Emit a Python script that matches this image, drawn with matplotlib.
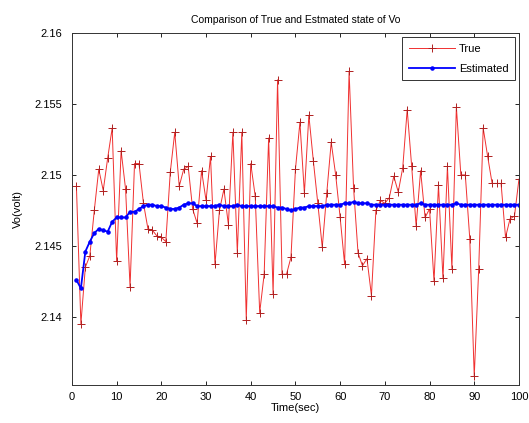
import numpy as np
import matplotlib
matplotlib.use("Agg")
import matplotlib.pyplot as plt

plt.rcParams['font.family'] = ['Liberation Sans', 'DejaVu Sans']

# time steps 1..100
t = np.arange(1, 101)

vo_true = [2.1492, 2.1395, 2.1435, 2.1443, 2.1475, 2.1504, 2.1489, 2.1512, 2.1533, 2.1439,
           2.1517, 2.1490, 2.1421, 2.1508, 2.1508, 2.1480, 2.1462, 2.1461, 2.1457, 2.1456,
           2.1453, 2.1502, 2.1530, 2.1492, 2.1504, 2.1506, 2.1476, 2.1466, 2.1503, 2.1482,
           2.1513, 2.1437, 2.1475, 2.1490, 2.1465, 2.1530, 2.1445, 2.1530, 2.1398, 2.1508,
           2.1485, 2.1403, 2.1430, 2.1526, 2.1416, 2.1567, 2.1430, 2.1430, 2.1442, 2.1504,
           2.1537, 2.1487, 2.1542, 2.1510, 2.1480, 2.1449, 2.1487, 2.1523, 2.1500, 2.1470,
           2.1437, 2.1573, 2.1491, 2.1445, 2.1436, 2.1441, 2.1415, 2.1475, 2.1482, 2.1480,
           2.1484, 2.1499, 2.1488, 2.1505, 2.1546, 2.1506, 2.1464, 2.1503, 2.1470, 2.1476,
           2.1425, 2.1493, 2.1427, 2.1506, 2.1434, 2.1548, 2.1500, 2.1500, 2.1455, 2.1358,
           2.1434, 2.1533, 2.1513, 2.1494, 2.1494, 2.1494, 2.1456, 2.1469, 2.1471, 2.1497]

vo_est = [2.1426, 2.1420, 2.1446, 2.1453, 2.1459, 2.1462, 2.1461, 2.1460, 2.1467, 2.1470,
          2.1470, 2.1470, 2.1474, 2.1474, 2.1476, 2.1478, 2.1479, 2.1479, 2.1478, 2.1478,
          2.1477, 2.1476, 2.1476, 2.1477, 2.1479, 2.1480, 2.1480, 2.1478, 2.1478, 2.1478,
          2.1478, 2.1478, 2.1479, 2.1478, 2.1478, 2.1478, 2.1479, 2.1478, 2.1478, 2.1478,
          2.1478, 2.1478, 2.1478, 2.1478, 2.1478, 2.1477, 2.1477, 2.1476, 2.1475, 2.1476,
          2.1477, 2.1477, 2.1478, 2.1478, 2.1478, 2.1478, 2.1479, 2.1479, 2.1479, 2.1479,
          2.1480, 2.1480, 2.1481, 2.1480, 2.1480, 2.1480, 2.1479, 2.1479, 2.1479, 2.1479,
          2.1479, 2.1479, 2.1479, 2.1479, 2.1479, 2.1479, 2.1479, 2.1480, 2.1479, 2.1479,
          2.1479, 2.1479, 2.1479, 2.1479, 2.1479, 2.1480, 2.1479, 2.1479, 2.1479, 2.1479,
          2.1479, 2.1479, 2.1479, 2.1479, 2.1479, 2.1479, 2.1479, 2.1479, 2.1479, 2.1479]

xticks = np.arange(0, 101, 10)
yticks = [2.14, 2.145, 2.15, 2.155, 2.16]

fig = plt.figure(figsize=(5.29, 4.23), dpi=100)
ax = fig.add_axes([0.136, 0.09, 0.845, 0.832])

ax.plot(t, vo_true, '-', color='#f03030', lw=0.7, marker='+', ms=6, mew=0.7,
        mec='#b02020', label='True')
ax.plot(t, vo_est, '-', color='#0000ff', lw=1.3, marker='.', ms=4.5,
        label='Estimated')

ax.set_xlim(0, 100)
ax.set_ylim(2.1352, 2.16)
ax.set_xticks(xticks)
ax.set_yticks(yticks)
ax.set_yticklabels(['2.14', '2.145', '2.15', '2.155', '2.16'])
ax.tick_params(direction='in', labelsize=8, top=True, right=True, length=3, width=0.6)
ax.tick_params(axis='y', pad=7)
ax.tick_params(axis='x', pad=5)
for s in ax.spines.values():
    s.set_linewidth(0.7)
    s.set_color('#333333')

ax.set_title('Comparison of True and Estmated state of Vo', fontsize=7.5, pad=7)
ax.set_xlabel('Time(sec)', fontsize=8, labelpad=1)
ax.set_ylabel('Vo(volt)', fontsize=8, labelpad=8)

leg = ax.legend(loc='upper right', fontsize=8, fancybox=False, framealpha=1,
                edgecolor='#333333', handlelength=4.2, borderaxespad=0.35,
                labelspacing=0.9, borderpad=0.6, handletextpad=0.3)
leg.get_frame().set_linewidth(0.7)

fig.savefig('out.png', dpi=100)
